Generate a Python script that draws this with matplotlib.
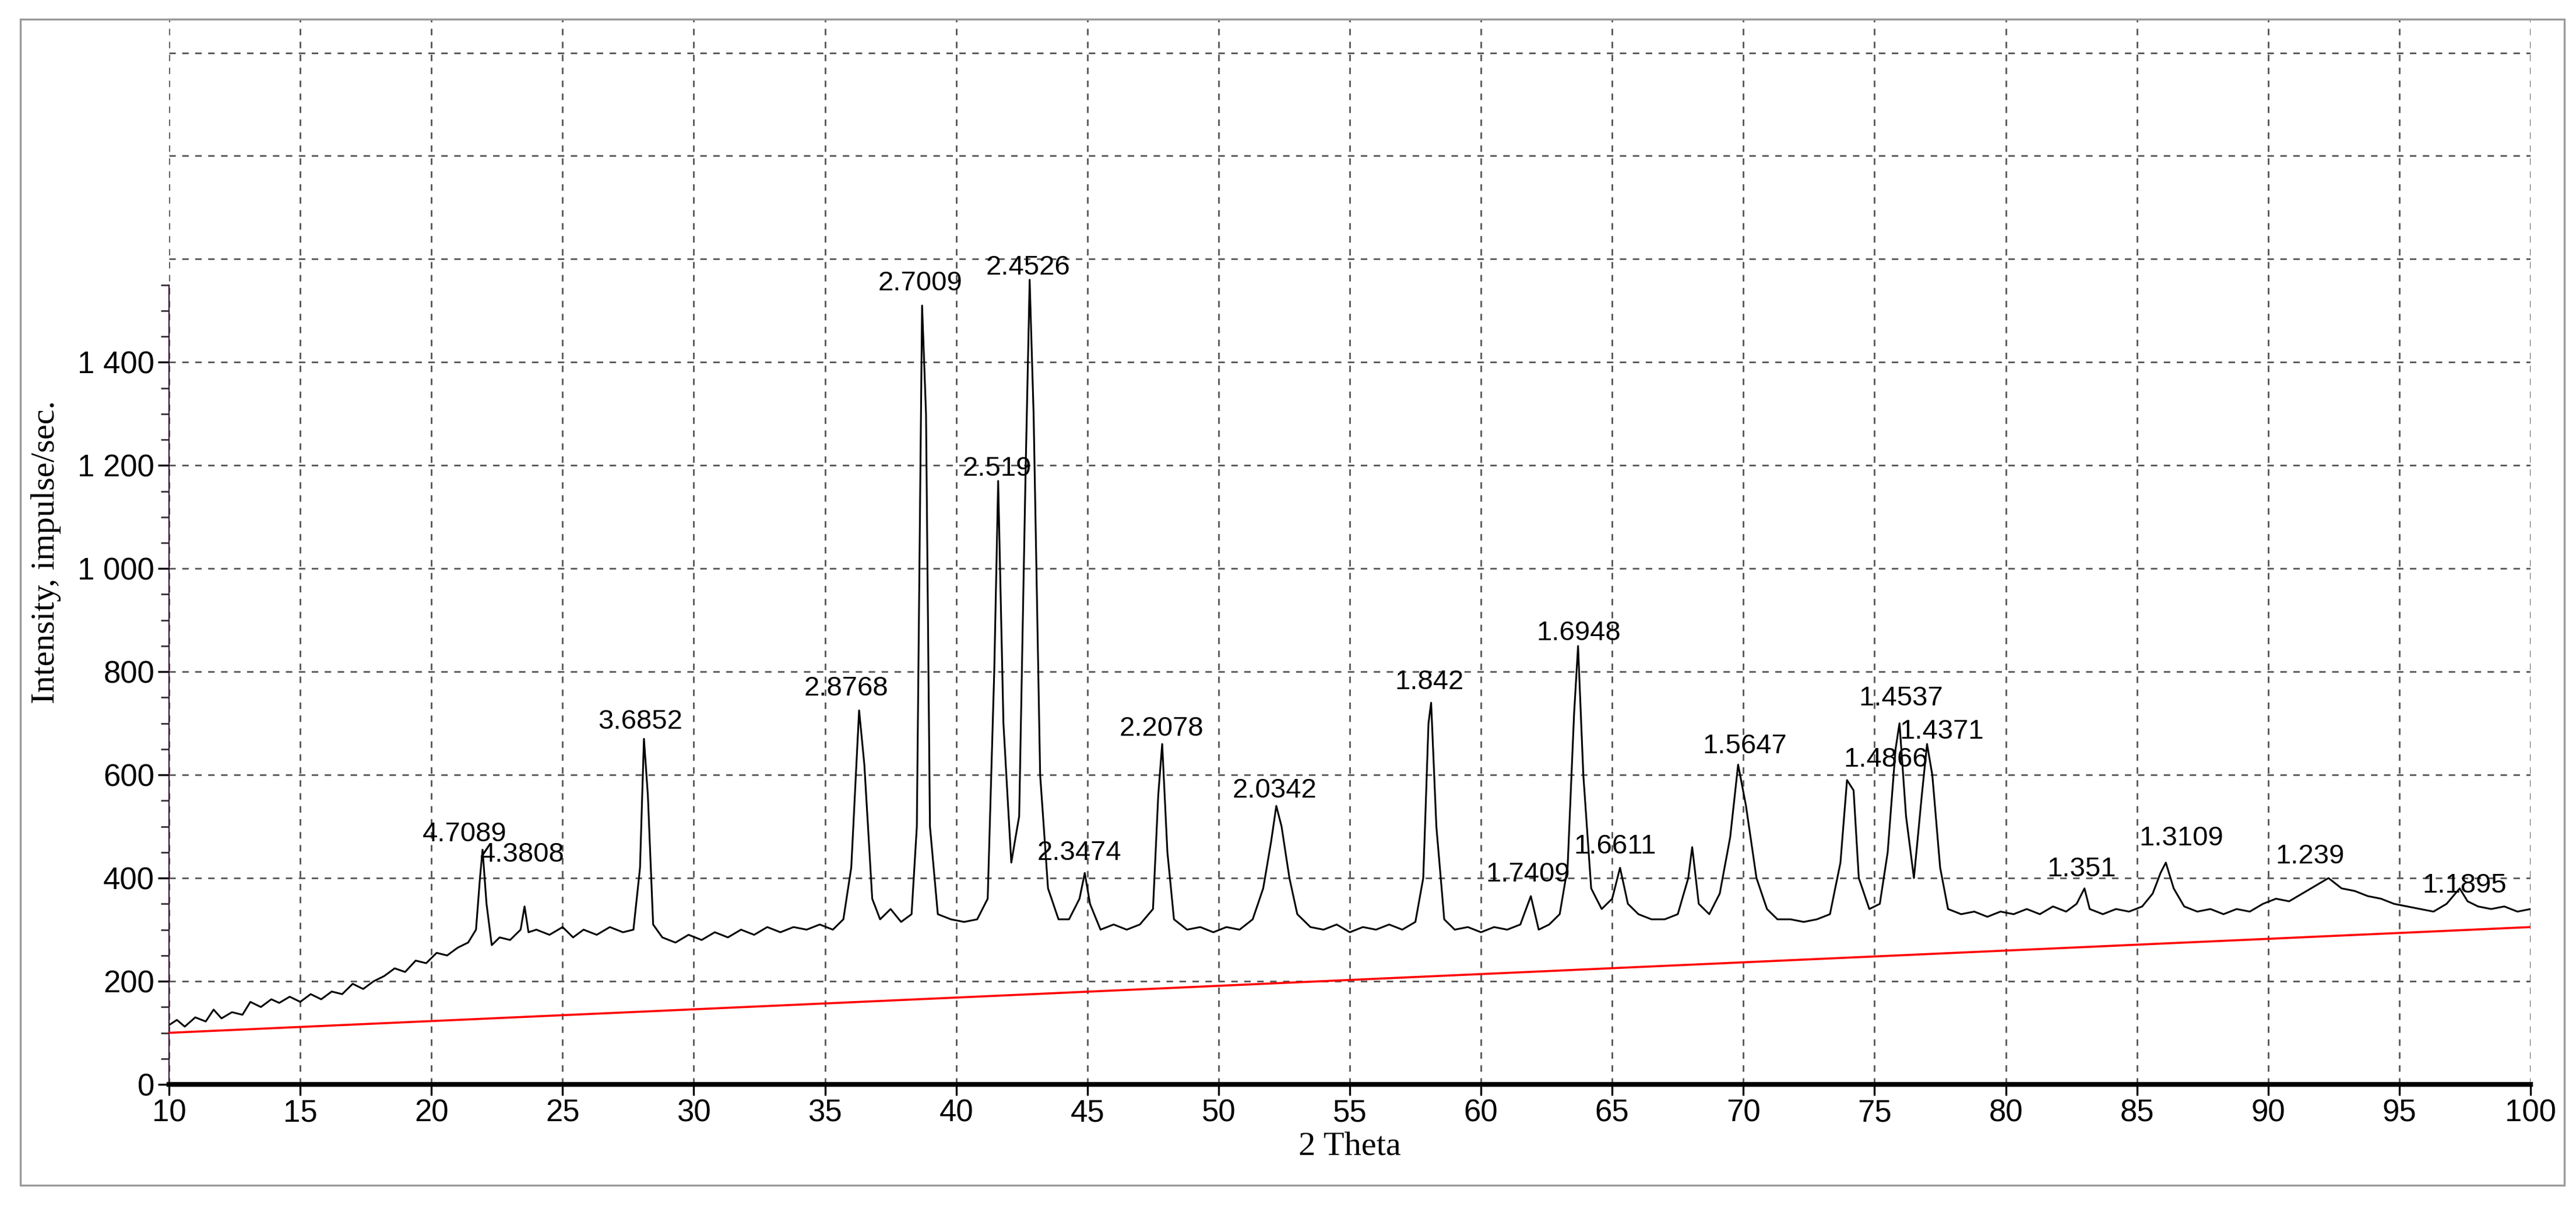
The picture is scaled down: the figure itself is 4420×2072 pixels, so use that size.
import matplotlib
matplotlib.use("Agg")
import matplotlib.pyplot as plt
from matplotlib.ticker import FixedLocator, FuncFormatter
from matplotlib.patches import Rectangle

two_theta = [10.0,10.3,10.6,11.0,11.4,11.7,12.0,12.4,12.8,13.1,13.5,13.9,14.2,14.6,15.0,15.4,15.8,16.2,16.6,17.0,17.4,17.8,18.2,18.6,19.0,19.4,19.8,20.2,20.6,21.0,21.4,21.7,21.85,21.95,22.1,22.3,22.6,23.0,23.4,23.55,23.7,24.0,24.5,25.0,25.4,25.8,26.3,26.8,27.3,27.7,27.95,28.1,28.25,28.45,28.8,29.3,29.8,30.3,30.8,31.3,31.8,32.3,32.8,33.3,33.8,34.3,34.8,35.3,35.7,36.0,36.3,36.5,36.8,37.1,37.5,37.9,38.3,38.5,38.7,38.85,39.0,39.3,39.8,40.3,40.8,41.2,41.45,41.6,41.8,42.1,42.4,42.65,42.8,42.95,43.2,43.5,43.9,44.3,44.7,44.9,45.1,45.5,46.0,46.5,47.0,47.5,47.7,47.85,48.05,48.3,48.8,49.3,49.8,50.3,50.8,51.3,51.7,52.0,52.2,52.4,52.7,53.0,53.5,54.0,54.5,55.0,55.5,56.0,56.5,57.0,57.5,57.8,58.0,58.1,58.3,58.6,59.0,59.5,60.0,60.5,61.0,61.5,61.9,62.2,62.6,63.0,63.3,63.55,63.7,63.9,64.2,64.6,65.0,65.3,65.6,66.0,66.5,67.0,67.5,67.9,68.05,68.3,68.7,69.1,69.5,69.8,70.1,70.5,70.9,71.3,71.8,72.3,72.8,73.3,73.7,73.95,74.2,74.4,74.8,75.2,75.5,75.8,75.95,76.2,76.5,76.8,77.0,77.2,77.5,77.8,78.3,78.8,79.3,79.8,80.3,80.8,81.3,81.8,82.3,82.7,83.0,83.2,83.7,84.2,84.7,85.2,85.6,85.9,86.1,86.4,86.8,87.3,87.8,88.3,88.8,89.3,89.8,90.3,90.8,91.3,91.8,92.3,92.8,93.3,93.8,94.3,94.8,95.3,95.8,96.3,96.8,97.3,97.6,98.0,98.5,99.0,99.5,100.0]
intensity = [115,125,112,130,122,145,128,140,135,160,150,165,158,170,160,175,165,180,175,195,185,200,210,225,218,240,235,255,250,265,275,300,400,455,350,270,285,280,300,345,295,300,290,305,285,300,290,305,295,300,420,670,560,310,285,275,290,280,295,285,300,290,305,295,305,300,310,300,320,420,725,620,360,320,340,315,330,500,1510,1300,500,330,320,315,320,360,800,1170,700,430,520,1200,1560,1300,600,380,320,320,360,410,350,300,310,300,310,340,560,660,450,320,300,305,295,305,300,320,380,470,540,500,400,330,305,300,310,295,305,300,310,300,315,400,700,740,500,320,300,305,295,305,300,310,365,300,310,330,420,720,850,600,380,340,360,420,350,330,320,320,330,400,460,350,330,370,480,620,540,400,340,320,320,315,320,330,430,590,570,400,340,350,450,650,700,520,400,560,660,600,420,340,330,335,325,335,330,340,330,345,335,350,380,340,330,340,335,345,370,410,430,380,345,335,340,330,340,335,350,360,355,370,385,400,380,375,365,360,350,345,340,335,350,380,355,345,340,345,335,340]

bg_x = [10, 100]
bg_y = [100, 305]

peak_labels = ["4.7089","4.3808","3.6852","2.8768","2.7009","2.4526","2.519","2.3474","2.2078","2.0342","1.842","1.7409","1.6948","1.6611","1.5647","1.4866","1.4537","1.4371","1.351","1.3109","1.239","1.1895"]
label_x = [21.27,23.46,27.97,35.80,38.62,42.75,41.56,44.69,47.82,52.14,58.03,61.78,63.73,65.10,70.05,75.43,76.00,77.56,82.89,86.70,91.59,97.48]
label_y = [485,445,703,767,1553,1584,1193,449,690,570,780,407,875,461,655,630,748,684,417,477,442,385]

x_ticks = list(range(10, 101, 5))
y_ticks = list(range(0, 1401, 200))
y_grid_extra = [1600, 1800, 2000]

fig = plt.figure(figsize=(22.1, 10.36), dpi=200)
W, H = 4420, 2072
ax = fig.add_axes([290/W, 1 - 1860/H, (4342-290)/W, (1860-33)/H])
fig.patches.append(Rectangle((35/W, 1-2033/H), (4400-35)/W, (2033-33)/H,
                             transform=fig.transFigure, fill=False, ec="#9a9a9a", lw=1.2))

ax.plot(bg_x, bg_y, color="red", lw=1.3, zorder=3)
ax.plot(two_theta, intensity, color="black", lw=1.1, zorder=4)

for t, x, y in zip(peak_labels, label_x, label_y):
    ax.text(x, y, t, ha="center", va="center", fontsize=17, family="Liberation Sans", zorder=5)

ax.set_xlim(10, 100)
ax.set_ylim(0, 2065)
ax.set_xticks(x_ticks)
ax.set_yticks(y_ticks)
for v in y_grid_extra:
    ax.axhline(v, color="#555555", ls=(0, (4, 4)), lw=1.0, zorder=1)
ax.yaxis.set_minor_locator(FixedLocator([v for v in range(50, 1551, 50) if v % 200]))
ax.yaxis.set_major_formatter(FuncFormatter(lambda v, p: "{:,}".format(int(v)).replace(",", " ")))
ax.grid(True, which="major", color="#555555", ls=(0, (4, 4)), lw=1.0)
for lab in ax.get_xticklabels() + ax.get_yticklabels():
    lab.set_family("Liberation Sans")
    lab.set_fontsize(19)
ax.tick_params(axis="both", which="major", direction="out", length=7, width=1.2, pad=2)
ax.tick_params(axis="y", which="minor", direction="out", length=5, width=1, color="#333333")
ax.spines["left"].set_bounds(0, 1550)
ax.spines["left"].set_color("#3a0a3a")
ax.spines["bottom"].set_linewidth(3)
ax.spines["right"].set_visible(False)
ax.spines["top"].set_color("#444444")
ax.set_xlabel("2 Theta", family="Liberation Serif", fontsize=21, labelpad=2)
ax.set_ylabel("Intensity, impulse/sec.", family="Liberation Serif", fontsize=21, labelpad=10)
fig.savefig("out.png", dpi=200)
